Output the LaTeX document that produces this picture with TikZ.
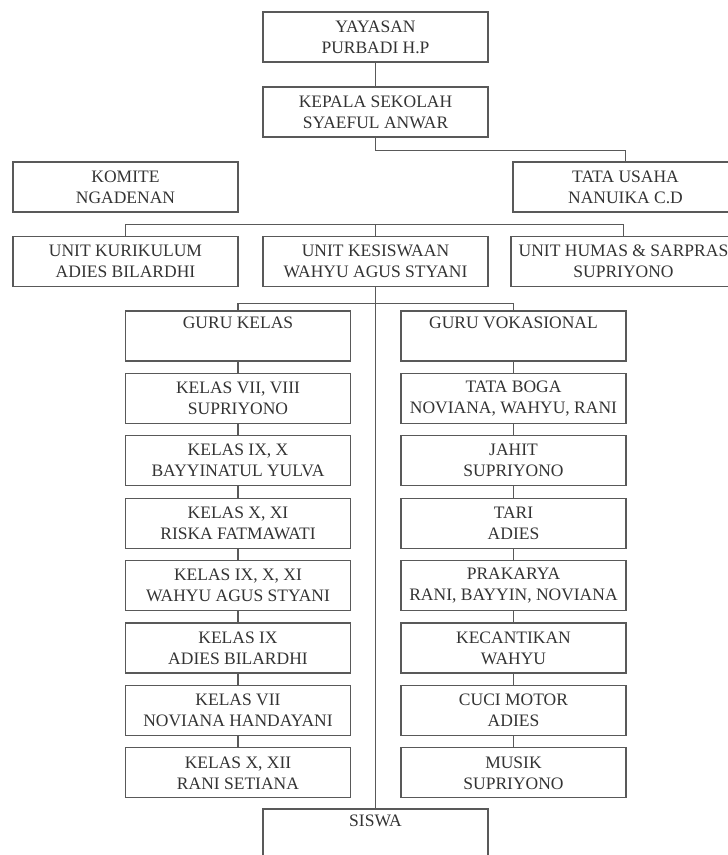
\documentclass[tikz,border=0pt]{standalone}
\usepackage{fontspec}
\setmainfont{Liberation Serif}
\usepackage{tikz}
\colorlet{boxline}{black!65}
\colorlet{boxtext}{black!80}
\tikzset{
	jabatan/.style={draw=boxline, line width=1.2pt, text=boxtext, minimum width=225pt, minimum height=50pt, inner sep=1pt, align=center, font=\fontsize{17.5}{21}\selectfont},
	garis/.style={draw=boxline, line width=1.1pt}
}
\def\kolomkiri{238}
\def\kolomkanan{513.5}

\begin{document}
\begin{tikzpicture}[x=1pt,y=-1pt]
					\useasboundingbox (0,0) rectangle (728,855);
					
					%pimpinan
					\node[jabatan] (yayasan) at (375.5,37) {YAYASAN\\PURBADI H.P};
					\node[jabatan] (kepala) at (375.5,112) {KEPALA SEKOLAH\\SYAEFUL ANWAR};
					\node[jabatan] (komite) at (125.5,187) {KOMITE\\NGADENAN};
					\node[jabatan] (tatausaha) at (625.5,187) {TATA USAHA\\NANUIKA C.D};
					
					%unit
					\node[jabatan] (kurikulum) at (125.5,261.5) {UNIT KURIKULUM\\ADIES BILARDHI};
					\node[jabatan] (kesiswaan) at (375.5,261.5) {UNIT KESISWAAN\\WAHYU AGUS STYANI};
					\node[jabatan] (humas) at (623.5,261.5) {UNIT HUMAS \& SARPRAS\\SUPRIYONO};
					
					%guru kelas dan guru vokasional
					\foreach \teks [count=\i] in {{GURU KELAS\\\strut}, {KELAS VII, VIII\\SUPRIYONO}, {KELAS IX, X\\BAYYINATUL YULVA}, {KELAS X, XI\\RISKA FATMAWATI}, {KELAS IX, X, XI\\WAHYU AGUS STYANI}, {KELAS IX\\ADIES BILARDHI}, {KELAS VII\\NOVIANA HANDAYANI}, {KELAS X, XII\\RANI SETIANA}}
						\node[jabatan] (kelas\i) at (\kolomkiri,{336+62.4*(\i-1)}) {\teks};
					\foreach \teks [count=\i] in {{GURU VOKASIONAL\\\strut}, {TATA BOGA\\NOVIANA, WAHYU, RANI}, {JAHIT\\SUPRIYONO}, {TARI\\ADIES}, {PRAKARYA\\RANI, BAYYIN, NOVIANA}, {KECANTIKAN\\WAHYU}, {CUCI MOTOR\\ADIES}, {MUSIK\\SUPRIYONO}}
						\node[jabatan] (vokasi\i) at (\kolomkanan,{336+62.4*(\i-1)}) {\teks};
					
					\node[jabatan] (siswa) at (375.5,834) {SISWA\\\strut};
					
					%drawing connectors
					\draw[garis] (yayasan) -- (kepala);
					\draw[garis] (kepala.south) -- ++(0,13) -| (tatausaha.north);
					\draw[garis] (kurikulum.north) -- ++(0,-11) -| (humas.north);
					\draw[garis] (kesiswaan.north) -- ++(0,-11);
					\draw[garis] (kesiswaan.south) -- (siswa.north);
					\draw[garis] (kelas1.north) -- ++(0,-7) -| (vokasi1.north);
					\foreach \i [evaluate=\i as \j using int(\i+1)] in {1,...,7}{
						\draw[garis] (kelas\i) -- (kelas\j);
						\draw[garis] (vokasi\i) -- (vokasi\j);
					}
				\end{tikzpicture}
\end{document}
